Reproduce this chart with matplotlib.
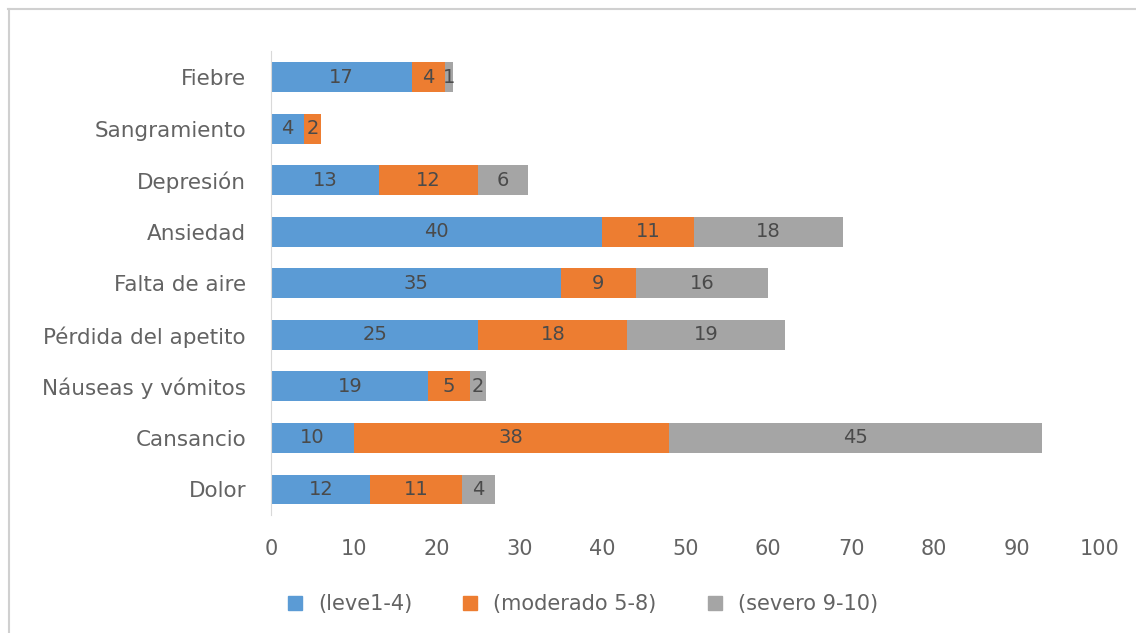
import matplotlib
matplotlib.use("Agg")
import numpy as np
import matplotlib.pyplot as plt
from matplotlib.lines import Line2D

categories = ["Dolor", "Cansancio", "Náuseas y vómitos", "Pérdida del apetito",
              "Falta de aire", "Ansiedad", "Depresión", "Sangramiento", "Fiebre"]
leve = [12, 10, 19, 25, 35, 40, 13, 4, 17]
moderado = [11, 38, 5, 18, 9, 11, 12, 2, 4]
severo = [4, 45, 2, 19, 16, 18, 6, 0, 1]
series_names = ["(leve1-4)", "(moderado 5-8)", "(severo 9-10)"]
colors = ["#5B9BD5", "#ED7D31", "#A5A5A5"]

plt.rcParams['font.family'] = ['DejaVu Sans']

fig = plt.figure(figsize=(11.36, 6.33), dpi=100)
ax = fig.add_axes([0.2386, 0.186, 0.7294, 0.733])

y = np.arange(len(categories))
left = np.zeros(len(categories))
for vals, name, col in zip([leve, moderado, severo], series_names, colors):
    vals = np.array(vals, dtype=float)
    ax.barh(y, vals, left=left, height=0.58, color=col, label=name)
    for yi, l, v in zip(y, left, vals):
        if v > 0:
            ax.text(l + v / 2, yi, str(int(v)), ha="center", va="center",
                    fontsize=14, color="#4a4a4a")
    left += vals

ax.set_xlim(0, 100)
ax.set_ylim(-0.5, len(categories) - 0.5)
ax.set_xticks(np.arange(0, 101, 10))
ax.set_yticks(y)
ax.set_yticklabels(categories)
ax.tick_params(axis="x", length=0, pad=17, labelsize=15, labelcolor="#636363")
ax.tick_params(axis="y", length=0, pad=18, labelsize=15.5, labelcolor="#636363")
for s in ["top", "right", "bottom"]:
    ax.spines[s].set_visible(False)
ax.spines["left"].set_color("#D9D9D9")

handles = [Line2D([], [], marker="s", linestyle="none", markersize=10,
                  markerfacecolor=c, markeredgecolor=c) for c in colors]
fig.legend(handles, series_names, loc="center", bbox_to_anchor=(0.507, 0.046),
           ncol=3, frameon=False, fontsize=15, labelcolor="#636363",
           handletextpad=0.1, columnspacing=1.8)

# outer frame like the original export
fig.add_artist(Line2D([0.007, 1.0], [1 - 9 / 633, 1 - 9 / 633], color="#D0D0D0", lw=1.5))
fig.add_artist(Line2D([0.008, 0.008], [0.0, 1 - 9 / 633], color="#D0D0D0", lw=1.5))

fig.savefig("out.png", dpi=100)
